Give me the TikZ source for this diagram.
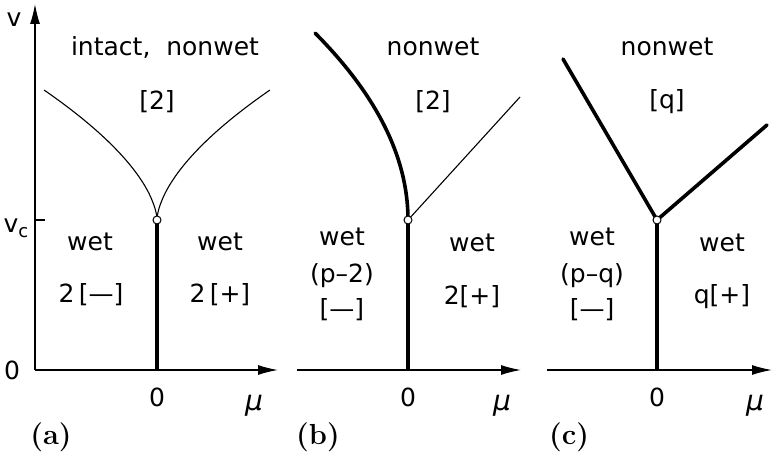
\documentclass[tikz,border=0pt]{standalone}
\usepackage{fontspec}
\newfontfamily\dejavu{DejaVu Sans}
\usetikzlibrary{arrows.meta}
\tikzset{
  lab/.style={font=\dejavu\fontsize{25}{28}\selectfont, inner sep=0pt},
  mulab/.style={font=\dejavu\itshape\fontsize{28}{30}\selectfont, inner sep=0pt},
  plab/.style={font=\rmfamily\bfseries\fontsize{29}{34}\selectfont, inner sep=0pt},
  axis/.style={line width=1.3pt, -{Latex[length=20pt,width=10pt]}},
  thin/.style={line width=1.1pt},
  thick/.style={line width=3.6pt},
  dot/.style={circle, draw, fill=white, inner sep=0pt, minimum size=8pt, line width=1pt}
}
\begin{document}
\begin{tikzpicture}[x=1pt,y=-1pt]
\useasboundingbox (0,0) rectangle (772,454);
% ---------- panel (a)
\coordinate (a0) at (35,370);
\coordinate (ax) at (278,370);
\coordinate (ay) at (35,4);
\coordinate (ab) at (157,370);
\coordinate (ac) at (157,220);
\coordinate (at1) at (35,220);
\coordinate (at2) at (45,220);
\draw[axis] (a0) -- (ax);
\draw[axis] (a0) -- (ay);
\draw[thin] (at1) -- (at2);
\draw[thick] (ab) -- (ac);
\draw[thin] (ac) -- plot[domain=0.002:1, samples=60] ({157-113*\x^1.667},{220-130*\x});
\draw[thin] (ac) -- plot[domain=0.002:1, samples=60] ({157+113*\x^1.667},{220-130*\x});
\node[dot] (acd) at (ac) {};
\node[lab] (av) at (14,20) {v};
\node[lab] (avc) at (16,228) {v\raisebox{-0.35ex}{\fontsize{18}{20}\selectfont c}};
\node[lab] (az) at (12,370) {0};
\node[lab] (az2) at (157,397) {0};
\node[mulab] (amu) at (254,406) {μ};
\node[plab] (apl) at (51,437) {(a)};
\node[lab] (at) at (165,47) {intact,\ \ nonwet};
\node[lab] (a2) at (157,102) {[2]};
\node[lab] (aw1) at (90,242) {wet};
\node[lab] (am) at (91,295) {2\,[—]};
\node[lab] (aw2) at (220,242) {wet};
\node[lab] (ap) at (220,295) {2\,[+]};
% ---------- panel (b)
\coordinate (b0) at (297,370);
\coordinate (bx) at (521,370);
\coordinate (bb) at (408,370);
\coordinate (bc) at (408,220);
\coordinate (br) at (520,97);
\draw[axis] (b0) -- (bx);
\draw[thick] (bb) -- (bc);
\draw[thick, line cap=round] (bc) -- plot[domain=0:1, samples=60] ({408-93*\x*\x},{220-187*\x});
\draw[thin] (bc) -- (br);
\node[dot] (bcd) at (bc) {};
\node[lab] (bz) at (408,397) {0};
\node[mulab] (bmu) at (502,406) {μ};
\node[plab] (bpl) at (318,437) {(b)};
\node[lab] (bn) at (433,47) {nonwet};
\node[lab] (b2) at (433,102) {[2]};
\node[lab] (bw1) at (342,237) {wet};
\node[lab] (bp2) at (342,276) {(p–2)};
\node[lab] (bm) at (342,310) {[—]};
\node[lab] (bw2) at (472,243) {wet};
\node[lab] (bp) at (472,297) {2[+]};
% ---------- panel (c)
\coordinate (c0) at (547,370);
\coordinate (cx) at (772,370);
\coordinate (cb) at (657,370);
\coordinate (cc) at (657,220);
\coordinate (cl) at (563,59);
\coordinate (cr) at (767,125);
\draw[axis] (c0) -- (cx);
\draw[thick] (cb) -- (cc);
\draw[thick, line cap=round] (cc) -- (cl);
\draw[thick, line cap=round] (cc) -- (cr);
\node[dot] (ccd) at (cc) {};
\node[lab] (cz) at (657,397) {0};
\node[mulab] (cmu) at (755,406) {μ};
\node[plab] (cpl) at (569,437) {(c)};
\node[lab] (cn) at (667,47) {nonwet};
\node[lab] (cq) at (667,102) {[q]};
\node[lab] (cw1) at (592,237) {wet};
\node[lab] (cpq) at (592,276) {(p–q)};
\node[lab] (cm) at (592,310) {[—]};
\node[lab] (cw2) at (722,243) {wet};
\node[lab] (cp) at (722,297) {q[+]};
\end{tikzpicture}
\end{document}
